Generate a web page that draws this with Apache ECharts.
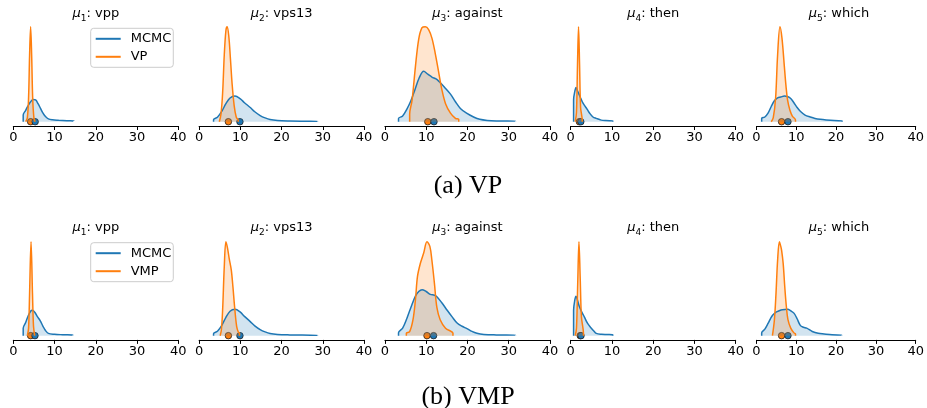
<!DOCTYPE html>
<html>
<head>
<meta charset="utf-8">
<script src="https://cdn.jsdelivr.net/npm/echarts@6/dist/echarts.min.js"></script>
<style>
  html, body { margin: 0; padding: 0; background: #fff; }
  #chart { width: 927px; height: 408px; }
</style>
</head>
<body>
<div id="chart"></div>
<script>
// ---------------- data ----------------
const words = ['vpp', 'vps13', 'against', 'then', 'which'];
const subIdx = ['1', '2', '3', '4', '5'];
const xTicks = [0, 10, 20, 30, 40];
const captions = ['(a) VP', '(b) VMP'];

// density curves, relative height (tallest curve of each panel = 100)
// figure (a): MCMC vs VP
const mcmcA = [
  [[2.4,0],[2.4,7],[3.0,12],[3.6,17],[4.2,21],[4.8,23.5],[5.4,23],[6.0,19],[6.6,14],[7.2,9],[7.8,5.5],[8.5,3],[9.5,2],[11,1.5],[13,1],[14.7,0.7],[14.7,0]],
  [[3.5,0],[3.5,2],[4.5,5],[5.5,11],[6.5,19],[7.5,25],[8.7,27],[10,24],[11,20],[12.4,15],[13.5,10.5],[14.8,6.5],[16,4],[17.2,2.3],[19,1.3],[22,0.8],[25,0.6],[28.8,0.5],[28.8,0]],
  [[3.3,0],[3.3,3.5],[4.3,6],[5.3,13],[6.3,22],[7.3,34],[8.3,46],[9.4,53],[10.4,50],[11.4,47],[12.4,45],[13.2,42],[14.5,36],[15.9,29],[17.1,21],[18.3,14],[19.8,9],[21.5,5],[23,2.5],[24.8,1.3],[27,0.8],[31.7,0.6],[31.7,0]],
  [[0.7,0],[0.7,23],[1.0,32],[1.3,36],[1.7,32],[2.3,26],[2.8,21],[3.3,17.5],[4.0,13],[4.6,9],[5.4,5],[6.2,3.5],[7.4,1.7],[8.5,1.2],[10.2,1],[10.2,0]],
  [[1.3,0],[1.3,3.5],[2.1,5],[2.9,9],[3.7,16],[4.5,22],[5.3,25],[6.1,26],[7.0,27],[7.8,26.5],[8.6,24.5],[9.4,20],[10.2,15],[11.0,11],[12.2,7],[13.5,5],[14.7,3.5],[16,2.5],[17.5,1.8],[19.5,1.2],[21.5,1],[21.5,0]]
];
const vpA = [
  [[3.0,0],[3.4,4],[3.7,25],[3.95,70],[4.2,100],[4.45,70],[4.7,25],[5.0,4],[5.3,0]],
  [[4.9,0],[5.3,8],[5.7,30],[6.1,70],[6.5,96],[6.8,100],[7.2,90],[7.6,66],[8.0,40],[8.5,17],[9.0,5],[9.5,1],[9.5,0]],
  [[6.0,0],[6.0,7.8],[6.6,23],[7.4,58],[8.2,87],[9.0,99],[9.8,100],[10.6,97],[11.4,88],[12.2,72],[13.0,53],[13.8,34],[14.7,19],[15.9,9],[17.1,3.5],[17.9,2.5],[17.9,0]],
  [[1.1,0],[1.4,10],[1.65,60],[1.9,100],[2.15,60],[2.4,15],[2.8,1],[2.8,0]],
  [[3.7,0],[4.2,4],[4.8,25],[5.3,70],[5.9,100],[6.4,88],[7.0,58],[7.4,38],[7.8,23],[8.4,12],[9.0,6],[9.8,1.8],[9.8,0]]
];
// figure (b): MCMC vs VMP
const mcmcB = [
  [[2.4,0],[2.4,8],[3.0,14],[3.6,21],[4.2,26],[4.6,27],[5.2,25],[5.8,20.5],[6.5,16],[7.2,10],[7.8,5.5],[8.5,2.5],[10,1.5],[12,1],[14.5,0.5],[14.5,0]],
  [[3.5,0],[3.5,2],[4.5,5],[5.5,11],[6.5,19.5],[7.5,26],[8.7,28],[10,25],[11,20.5],[12.4,15],[13.5,10.5],[14.8,6.5],[16,4],[17.2,2.3],[19,1.3],[22,0.8],[25,0.6],[28.8,0.5],[28.8,0]],
  [[3.3,0],[3.3,3],[4.3,8],[5.3,18],[6.3,30],[7.4,42],[8.2,47],[9.0,49],[10.0,47],[11.0,44],[12.0,43],[12.6,41.5],[13.8,35],[15.1,27],[16.3,20],[17.5,13.5],[18.7,10],[19.9,7.5],[21.1,4.5],[22.3,2.5],[24,1.3],[27,0.8],[31.7,0.5],[31.7,0]],
  [[0.7,0],[0.7,27],[1.0,38],[1.3,42],[1.7,37],[2.1,31],[2.7,25],[3.3,20],[4.1,13],[5.0,8],[5.6,5],[6.2,2.5],[7.5,1.5],[8.8,1.2],[10.2,0.8],[10.2,0]],
  [[1.3,0],[1.3,3],[2.1,7],[2.9,13],[3.5,18],[4.1,22],[4.9,25],[5.7,26.5],[6.5,27.5],[7.8,28],[8.6,26.5],[9.4,24],[10.2,18],[11.0,11],[11.8,9],[12.6,8],[14,4.5],[15.5,2.5],[17,1.8],[19,1],[21.5,0.5],[21.5,0]]
];
const vmpB = [
  [[3.4,0],[3.7,8],[3.95,45],[4.3,100],[4.65,45],[4.9,10],[5.2,0]],
  [[5.1,0],[5.4,6],[5.7,27],[6.1,73],[6.5,100],[6.9,93],[7.3,82],[7.8,70],[8.2,52],[8.6,31],[9.1,10],[9.5,4],[9.8,2.5],[9.8,0]],
  [[5.2,0],[5.2,2.5],[6.0,4.3],[6.8,16.7],[7.4,38],[7.9,63],[8.6,77],[9.4,88],[10.2,100],[10.9,95],[11.4,80],[12.0,56],[12.6,30],[13.4,17],[14.7,8],[16.5,2.5],[16.5,0]],
  [[1.1,0],[1.4,8],[1.7,55],[2.0,100],[2.3,62],[2.6,20],[3.1,2],[3.1,0]],
  [[4.0,0],[4.5,17],[4.9,45],[5.3,80],[5.75,100],[6.1,95],[6.3,91],[6.7,77],[7.1,52],[7.5,31],[7.9,17],[8.6,8],[9.4,3],[9.8,1.8],[9.8,0]]
];
// point estimates shown as dots on the baseline
const meanMcmcA = [5.3, 9.9, 11.9, 2.45, 7.9];
const meanVpA   = [4.2, 7.1, 10.4, 2.1, 6.3];
const meanMcmcB = [5.25, 9.9, 11.8, 2.5, 7.9];
const meanVmpB  = [4.2, 7.1, 10.2, 2.3, 6.3];

// ---------------- layout / style ----------------
const C0 = '#1f77b4', C1 = '#ff7f0e';
const FONT = "'DejaVu Sans', sans-serif";
const panelLeft = [13.3, 199.1, 384.9, 570.7, 756.5];
const panelW = 165;
const rows = [
  { top: 26.7, height: 99.3, mcmc: mcmcA, approx: vpA, mMcmc: meanMcmcA, mApprox: meanVpA, name: 'VP', titleY: 14, captionY: 186, legendTop: 28.3 },
  { top: 241.7, height: 98.2, mcmc: mcmcB, approx: vmpB, mMcmc: meanMcmcB, mApprox: meanVmpB, name: 'VMP', titleY: 228, captionY: 397.5, legendTop: 242.7 }
];

const grid = [], xAxis = [], yAxis = [], series = [], graphic = [], legend = [];

rows.forEach((row, r) => {
  for (let i = 0; i < 5; i++) {
    const k = r * 5 + i;
    grid.push({ left: panelLeft[i], top: row.top, width: panelW, height: row.height, containLabel: false });
    xAxis.push({
      type: 'value', gridIndex: k, min: xTicks[0], max: xTicks[xTicks.length - 1], interval: xTicks[1] - xTicks[0],
      axisLine: { show: true, onZero: false, lineStyle: { color: '#000', width: 1 } },
      axisTick: { show: true, length: 4, inside: false, lineStyle: { color: '#000', width: 1 } },
      splitLine: { show: false },
      axisLabel: { fontSize: 13, color: '#000', fontFamily: FONT, margin: 5.5 }
    });
    yAxis.push({ type: 'value', gridIndex: k, min: -4.5, max: 100, show: false });

    series.push({
      name: 'MCMC', type: 'line', xAxisIndex: k, yAxisIndex: k, data: row.mcmc[i],
      smooth: 0.35, symbol: 'none', clip: false,
      lineStyle: { color: C0, width: 1.5 }, itemStyle: { color: C0 },
      areaStyle: { color: C0, opacity: 0.2 }
    });
    series.push({
      name: row.name, type: 'line', xAxisIndex: k, yAxisIndex: k, data: row.approx[i],
      smooth: 0.35, symbol: 'none', clip: false,
      lineStyle: { color: C1, width: 1.5 }, itemStyle: { color: C1 },
      areaStyle: { color: C1, opacity: 0.2 }
    });
    series.push({
      name: row.name + ' estimate', type: 'scatter', xAxisIndex: k, yAxisIndex: k,
      data: [[row.mApprox[i], 0]], symbolSize: 6.5, clip: false,
      itemStyle: { color: C1, borderColor: '#222', borderWidth: 0.8, opacity: 1 }
    });
    series.push({
      name: 'MCMC estimate', type: 'scatter', xAxisIndex: k, yAxisIndex: k,
      data: [[row.mMcmc[i], 0]], symbolSize: 6.5, clip: false,
      itemStyle: { color: C0, borderColor: '#222', borderWidth: 0.8, opacity: 1 }
    });

    graphic.push({
      type: 'text', x: panelLeft[i] + panelW / 2, y: row.titleY, silent: true,
      style: {
        text: '{m|μ}{s|' + subIdx[i] + '}{n|: ' + words[i] + '}',
        align: 'center', verticalAlign: 'middle',
        rich: {
          m: { fontFamily: FONT, fontSize: 13, fontStyle: 'italic', fill: '#000', lineHeight: 18 },
          s: { fontFamily: FONT, fontSize: 9, fill: '#000', lineHeight: 10, verticalAlign: 'bottom' },
          n: { fontFamily: FONT, fontSize: 13, fill: '#000', lineHeight: 18 }
        }
      }
    });
  }
  legend.push({
    data: ['MCMC', row.name], orient: 'vertical', left: 90.7, top: row.legendTop,
    itemWidth: 25, itemHeight: 14, itemGap: 5, padding: [4, 2, 4, 4],
    itemStyle: { opacity: 0 },
    backgroundColor: 'rgba(255,255,255,0.8)', borderColor: '#cccccc', borderWidth: 1, borderRadius: 3,
    textStyle: { fontSize: 13, color: '#000', fontFamily: FONT, padding: [0, 0, 0, 5] }
  });
  graphic.push({
    type: 'text', x: 468, y: row.captionY, silent: true,
    style: { text: captions[r], align: 'center', verticalAlign: 'middle',
      font: "26px 'Liberation Serif', 'Times New Roman', serif", fill: '#000' }
  });
});

const chart = echarts.init(document.getElementById('chart'), null, { renderer: 'canvas' });
chart.setOption({
  animation: false,
  backgroundColor: '#fff',
  grid, xAxis, yAxis, series, legend, graphic
});
</script>
</body>
</html>
